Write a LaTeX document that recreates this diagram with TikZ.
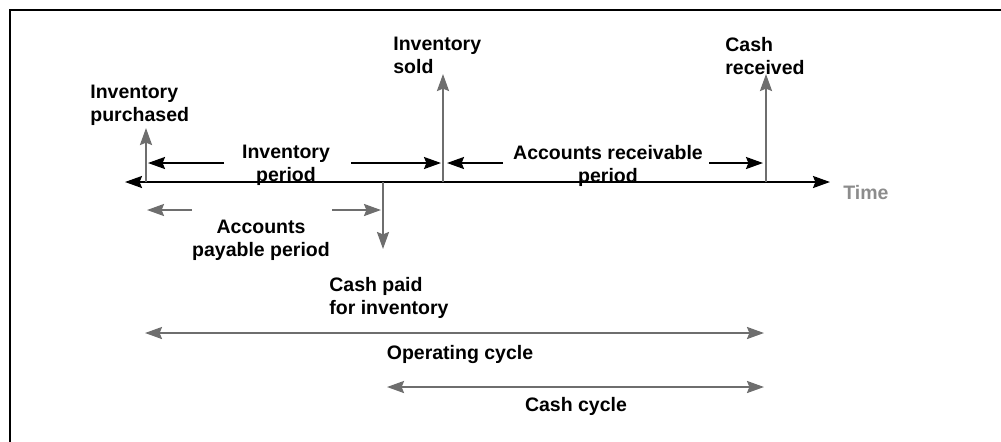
\documentclass[tikz,border=0pt]{standalone}
\usepackage{fontspec}
\setmainfont{Liberation Sans}
\usetikzlibrary{arrows.meta, calc}
\definecolor{ArrowGrey}{HTML}{6E6E6E}
\definecolor{TimeGrey}{HTML}{8C8C8C}
\tikzset{Label/.style={
    inner sep=0pt,
    font=\fontsize{9.75}{11.5}\selectfont\bfseries,
    align=center
    }
}
\tikzset{LeftLabel/.style={
    Label,
    align=left
    }
}
\tikzset{Head/.tip={Stealth[length=8.5pt,width=6pt,inset=1.2pt]}}
\tikzset{BlackArrow/.style={
    draw=black,
    line width=1pt,
    -Head
    }
}
\tikzset{GreyArrow/.style={
    draw=ArrowGrey,
    line width=1.1pt,
    -Head
    }
}
\tikzset{GreyDouble/.style={
    draw=ArrowGrey,
    line width=1.1pt,
    Head-Head
    }
}
\begin{document}
\begin{tikzpicture}[x=0.5pt, y=-0.5pt]
    \useasboundingbox (0,0) rectangle (1001,441);
    \clip (0,0) rectangle (1001,441);
    \draw[line width=1.1pt] (10,10) rectangle (1015,455);

    % time axis and events
    \coordinate (AxisL) at (125,182);
    \coordinate (AxisR) at (830,182);
    \coordinate (Purchase) at (146,182);
    \coordinate (Paid) at (383,182);
    \coordinate (Sold) at (443,182);
    \coordinate (Received) at (766,182);
    \draw[line width=1pt, Head-Head] (AxisL) -- (AxisR);
    \node (Time) [LeftLabel, text=TimeGrey, anchor=north west] at (843,185) {Time};

    % event labels
    \node (PurchLbl) [LeftLabel, anchor=north west] at (90,85) {Inventory\\purchased};
    \node (SoldLbl) [LeftLabel, anchor=north west] at (393,37) {Inventory\\sold};
    \node (RecvLbl) [LeftLabel, anchor=north west] at (725,37) {Cash\\received};
    \node (PaidLbl) [LeftLabel, anchor=north west] at (329,277) {Cash paid\\for inventory};

    \coordinate (PurchTop) at ($(Purchase)+(0,-54)$);
    \coordinate (SoldTop) at ($(Sold)+(0,-108)$);
    \coordinate (RecvTop) at ($(Received)+(0,-108)$);
    \coordinate (PaidBot) at ($(Paid)+(0,67)$);
        \draw[GreyArrow] (Purchase) -- (PurchTop);
        \draw[GreyArrow] (Sold) -- (SoldTop);
        \draw[GreyArrow] (Received) -- (RecvTop);
        \draw[GreyArrow] (Paid) -- (PaidBot);

    % periods
    \node (InvPeriod) [Label, anchor=north] at (286,145) {Inventory\\period};
    \node (ARPeriod) [Label, anchor=north] at (608,145) {Accounts receivable\\period};
    \node (APPeriod) [Label, anchor=north] at (261,220) {Accounts\\payable period};

    \coordinate (i1) at (224,163);
    \coordinate (i2) at (351,163);
        \draw[BlackArrow] (i1) -- ($(Purchase)+(2,-19)$);
        \draw[BlackArrow] (i2) -- ($(Sold)+(-2,-19)$);
    \coordinate (r1) at (503,163);
    \coordinate (r2) at (709,163);
        \draw[BlackArrow] (r1) -- ($(Sold)+(4,-19)$);
        \draw[BlackArrow] (r2) -- ($(Received)+(-3,-19)$);
    \coordinate (p1) at (192,210);
    \coordinate (p2) at (332,210);
        \draw[GreyArrow] (p1) -- ($(Purchase)+(1,28)$);
        \draw[GreyArrow] (p2) -- ($(Paid)+(-2,28)$);

    % cycles
    \draw[GreyDouble] ($(Purchase)+(-1,151)$) -- ($(Received)+(-2,151)$);
    \node (OpCycle) [Label, anchor=north] at (460,345) {Operating cycle};
    \draw[GreyDouble] ($(Paid)+(4,205)$) -- ($(Received)+(-2,205)$);
    \node (CashCycle) [Label, anchor=north] at (576,397) {Cash cycle};

\end{tikzpicture}
\end{document}
